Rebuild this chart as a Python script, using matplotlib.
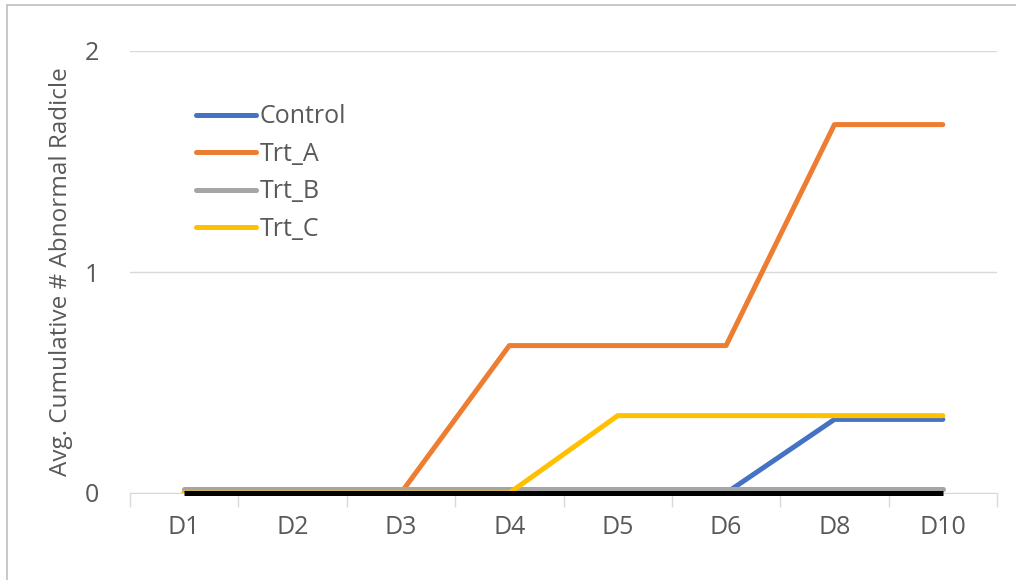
import matplotlib.pyplot as plt
from matplotlib.patches import Rectangle

days = ["D1", "D2", "D3", "D4", "D5", "D6", "D8", "D10"]
control = [0, 0, 0, 0, 0, 0, 0.333, 0.333]
trt_a = [0, 0, 0, 0.667, 0.667, 0.667, 1.667, 1.667]
trt_b = [0.018, 0.018, 0.018, 0.018, 0.018, 0.018, 0.018, 0.018]
trt_c = [0, 0, 0, 0, 0.35, 0.35, 0.35, 0.35]
baseline = [0, 0, 0, 0, 0, 0, 0, 0]

plt.rcParams['font.family'] = ['Open Sans', 'DejaVu Sans']
text_col = "#595959"
fs = 18

fig = plt.figure(figsize=(10.16, 5.8), dpi=100)
ax = fig.add_axes([130 / 1016, 1 - 493 / 580, 867 / 1016, 442 / 580])

# chart frame
fig.patches.append(Rectangle((7 / 1016, -0.1), 1.2, (1 - 5 / 580) + 0.1,
                             transform=fig.transFigure, fill=False,
                             edgecolor="#bfbfbf", linewidth=1.2))

x = list(range(len(days)))
lw = 3.6
ax.plot(x, control, color="#4472c4", lw=lw, label="Control", solid_capstyle="round")
ax.plot(x, trt_a, color="#ed7d31", lw=lw, label="Trt_A", solid_capstyle="round")
ax.plot(x, trt_b, color="#a5a5a5", lw=lw, label="Trt_B", solid_capstyle="round")
ax.plot(x, trt_c, color="#ffc000", lw=lw, label="Trt_C", solid_capstyle="round")
ax.plot(x, baseline, color="black", lw=lw, label="_nolegend_",
        solid_capstyle="butt", clip_on=False, zorder=5)

ax.set_xlim(-0.5, len(days) - 0.5)
ax.set_ylim(0, 2)
ax.set_yticks([0, 1, 2])
ax.grid(axis="y", color="#d9d9d9", lw=1)
ax.set_axisbelow(True)
for s in ["top", "right", "left"]:
    ax.spines[s].set_visible(False)
ax.spines["bottom"].set_color("#d9d9d9")

ax.set_xticks(x)
ax.set_xticklabels(days)
ax.set_xticks([i - 0.5 for i in range(len(days) + 1)], minor=True)
ax.tick_params(axis="x", which="major", length=0, pad=16, labelsize=fs, labelcolor=text_col)
ax.tick_params(axis="x", which="minor", length=10, color="#d9d9d9", width=1)
ax.tick_params(axis="y", length=0, pad=22, labelsize=fs, labelcolor=text_col)

ax.set_ylabel("Avg. Cumulative # Abnormal Radicle", fontsize=17.5, color=text_col, labelpad=9)

leg = ax.legend(loc="upper left", bbox_to_anchor=(0.05, 0.93), frameon=False,
                fontsize=fs, handlelength=2.4, handletextpad=0.15, labelspacing=0.5,
                labelcolor=text_col)

fig.savefig("out.png", dpi=100)
